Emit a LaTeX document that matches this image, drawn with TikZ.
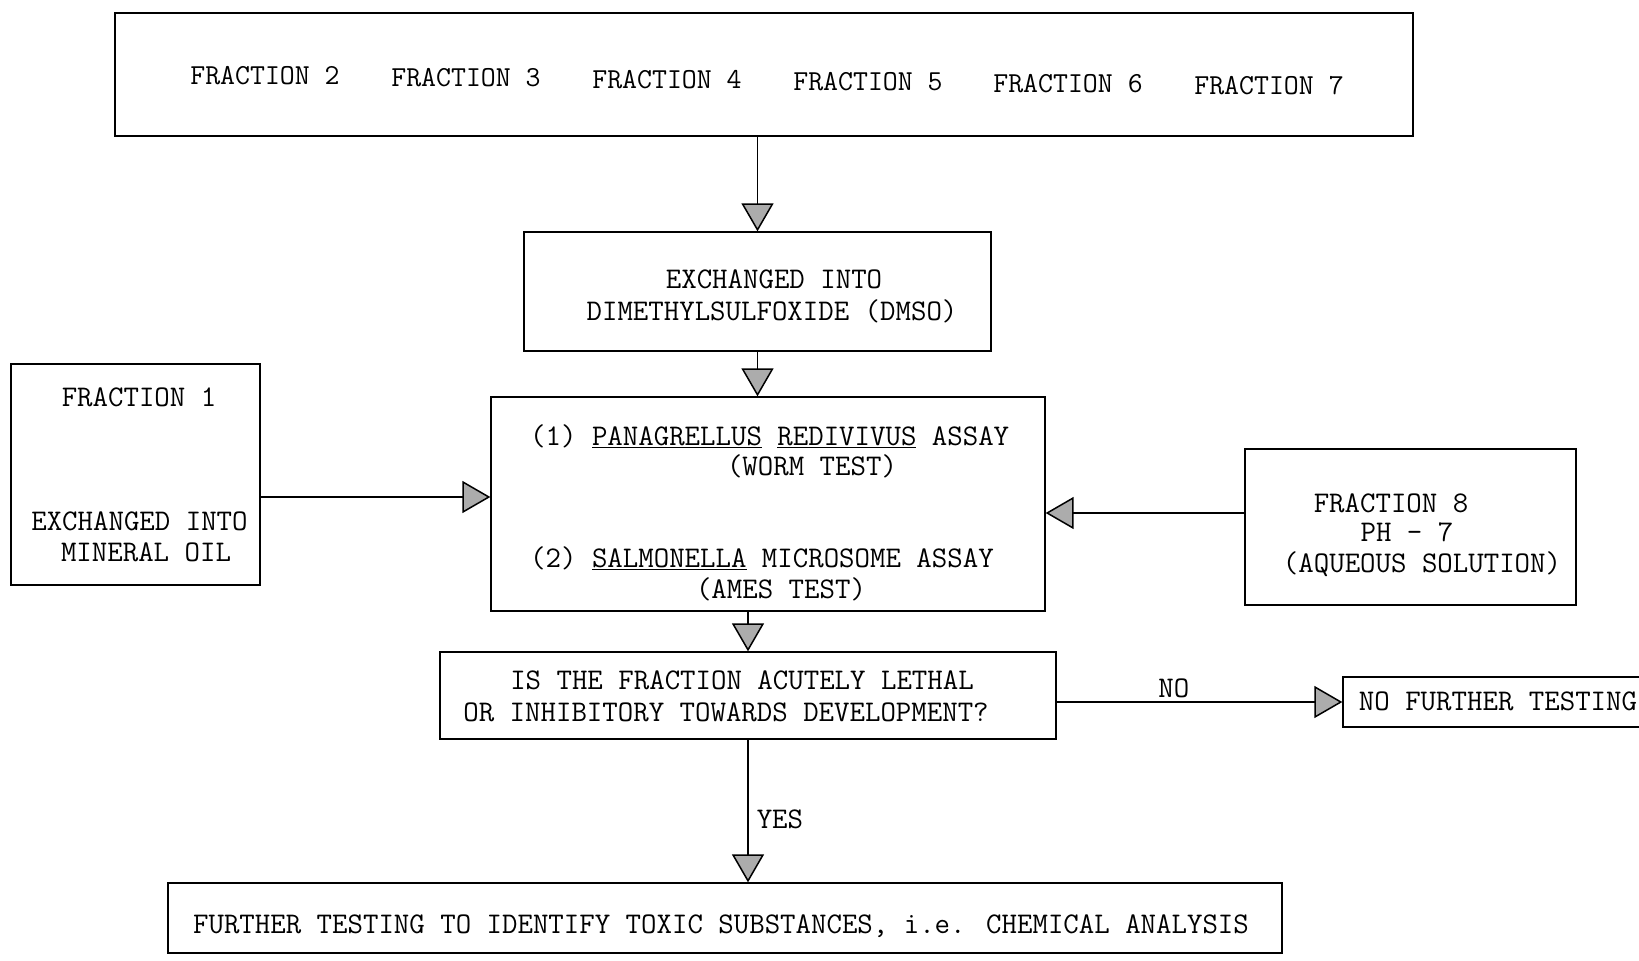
\documentclass[tikz,border=0pt]{standalone}
\usetikzlibrary{arrows.meta}
\begin{document}
\begin{tikzpicture}[x=1pt,y=-1pt,
  box/.style={draw, line width=1.3pt, inner sep=0pt},
  txt/.style={font=\ttfamily\fontsize{30}{34}\selectfont, inner sep=0pt, text height=18pt, text depth=0pt},
  ftxt/.style={txt, font=\ttfamily\fontsize{29}{34}\selectfont},
  arr/.style={line width=1.5pt, -{Triangle[length=28pt,width=32pt,fill=gray!65]}}]
\useasboundingbox[fill=white] (0,0) rectangle (1639,961);
% boxes
\node[box, minimum width=1298pt, minimum height=123pt] (top) at (764,74.5) {};
\node[box, minimum width=467pt, minimum height=119pt] (dmso) at (757.5,291.5) {};
\node[box, minimum width=554pt, minimum height=214pt] (assay) at (768,504) {};
\node[box, minimum width=249pt, minimum height=221pt] (f1) at (135.5,474.5) {};
\node[box, minimum width=331pt, minimum height=156pt] (f8) at (1410.5,527) {};
\node[box, minimum width=616pt, minimum height=87pt] (q) at (748,695.5) {};
\node[box, minimum width=330pt, minimum height=50pt] (nf) at (1508,702) {};
\node[box, minimum width=1114pt, minimum height=70pt] (fin) at (725,918) {};
% texts top
\node[ftxt] (t2) at (265,75) {FRACTION 2};
\node[ftxt] (t3) at (466,77) {FRACTION 3};
\node[ftxt] (t4) at (667,79) {FRACTION 4};
\node[ftxt] (t5) at (868,81) {FRACTION 5};
\node[ftxt] (t6) at (1068,83) {FRACTION 6};
\node[ftxt] (t7) at (1269,85) {FRACTION 7};
% dmso
\node[txt] (d1) at (774,279) {EXCHANGED INTO};
\node[txt] (d2) at (772,311) {DIMETHYLSULFOXIDE (DMSO)};
% assay
\node[txt, anchor=west] (a1) at (530,436) {(1) \underline{PANAGRELLUS} \underline{REDIVIVUS} ASSAY};
\node[txt] (a2) at (812,466) {(WORM TEST)};
\node[txt, anchor=west] (a3) at (530,558) {(2) \underline{SALMONELLA} MICROSOME ASSAY};
\node[txt] (a4) at (781,589) {(AMES TEST)};
% fraction 1
\node[txt] (g1) at (139,397) {FRACTION 1};
\node[txt] (g2) at (139.5,521) {EXCHANGED INTO};
\node[txt] (g3) at (146,552) {MINERAL OIL};
% fraction 8
\node[txt] (h1) at (1391,503) {FRACTION 8};
\node[txt] (h2) at (1407,532) {PH - 7};
\node[txt] (h3) at (1422,563) {(AQUEOUS SOLUTION)};
% question
\node[txt] (q1) at (742,680) {IS THE FRACTION ACUTELY LETHAL};
\node[txt] (q2) at (726,712) {OR INHIBITORY TOWARDS DEVELOPMENT?};
% no further
\node[txt] (n1) at (1498,701) {NO FURTHER TESTING};
% final
\node[txt] (fi) at (721,924) {FURTHER TESTING TO IDENTIFY TOXIC SUBSTANCES, i.e. CHEMICAL ANALYSIS};
% arrows
\coordinate (y1) at (0,497);
\coordinate (y8) at (0,513);
\draw[arr] (top.south -| dmso.north) -- (dmso.north);
\draw[arr] (dmso.south) -- (dmso.south |- assay.north);
\draw[arr] (f1.east |- y1) -- (assay.west |- y1);
\draw[arr] (f8.west |- y8) -- (assay.east |- y8);
\draw[arr] (assay.south -| q.north) -- (q.north);
\draw[arr] (q.east |- nf.west) -- node[txt, above=4pt, pos=0.41] (no) {NO} (nf.west);
\draw[arr] (q.south) -- node[txt, right=8pt, pos=0.56] (yes) {YES} (q.south |- fin.north);
\end{tikzpicture}
\end{document}
